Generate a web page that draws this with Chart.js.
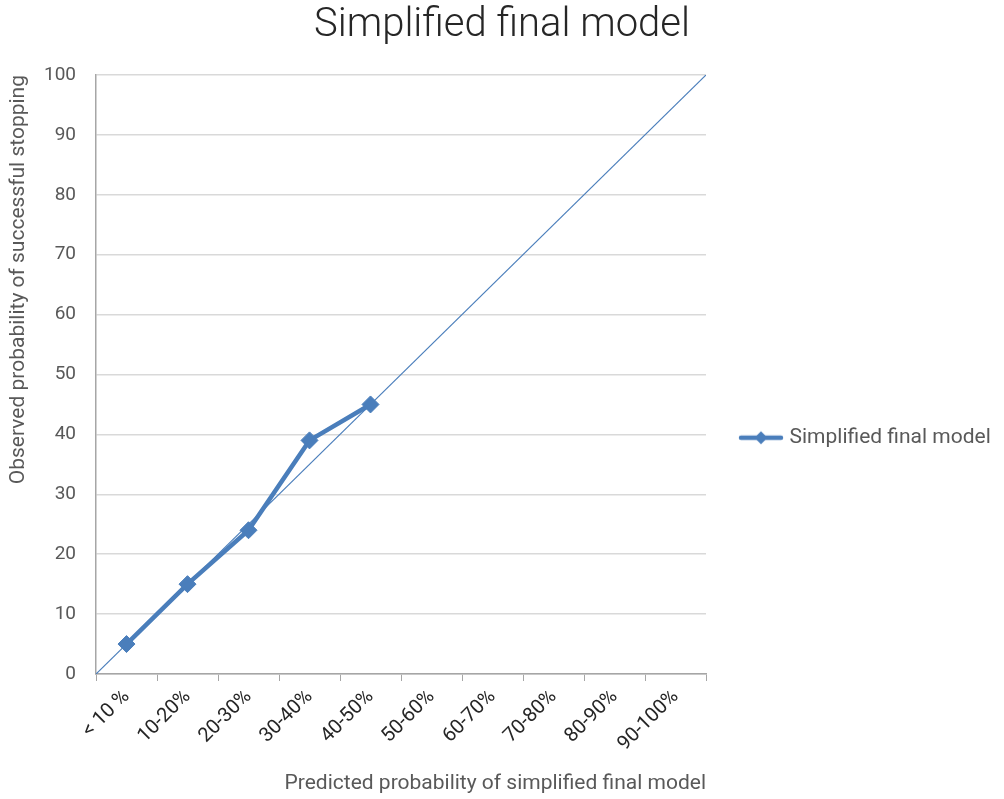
<!DOCTYPE html>
<html>
<head>
<meta charset="utf-8">
<script src="https://cdn.jsdelivr.net/npm/chart.js@4.4.0/dist/chart.umd.min.js"></script>
<style>
  body { margin: 0; background: #fff; }
  canvas { display: block; }
</style>
</head>
<body>
<canvas id="myChart" width="1004" height="799"></canvas>
<script>
// categories on the x axis
const categories = ["< 10 %", "10-20%", "20-30%", "30-40%", "40-50%", "50-60%", "60-70%", "70-80%", "80-90%", "90-100%"];
// observed probability per category (only the first five bins have data)
const observed = [5, 15, 24, 39, 45];
// reference diagonal (perfect calibration), on a hidden 0-100 scale
const refX = [0, 100];
const refY = [0, 100];
const yTicks = { min: 0, max: 100, step: 10 };

const blue = "#4a7ebb";
const textGray = "#595959";

// legend icon: line with diamond in the middle
const legendIcon = document.createElement("canvas");
legendIcon.width = 46;
legendIcon.height = 16;
(() => {
  const c = legendIcon.getContext("2d");
  c.strokeStyle = blue;
  c.fillStyle = blue;
  c.lineWidth = 4.5;
  c.lineCap = "round";
  c.beginPath();
  c.moveTo(3, 8);
  c.lineTo(43, 8);
  c.stroke();
  c.beginPath();
  c.moveTo(23, 1.5);
  c.lineTo(29.5, 8);
  c.lineTo(23, 14.5);
  c.lineTo(16.5, 8);
  c.closePath();
  c.fill();
})();

// the layout caps a side legend at a quarter of the width; give it the room it needs
const legendWidth = {
  id: "legendWidth",
  afterInit: (chart) => {
    const lg = chart.legend;
    const fit = lg.fit.bind(lg);
    lg.fit = function () {
      fit();
      this.width = 298;
    };
  },
};

Chart.defaults.font.family = "Roboto, 'Liberation Sans', sans-serif";
Chart.defaults.color = textGray;

const ctx = document.getElementById("myChart").getContext("2d");
const myChart = new Chart(ctx, {
  type: "line",
  data: {
    labels: categories,
    datasets: [
      {
        label: "Simplified final model",
        data: observed,
        xAxisID: "x",
        borderColor: blue,
        backgroundColor: blue,
        borderWidth: 4.5,
        pointStyle: "rectRot",
        pointRadius: 8.5,
        pointHoverRadius: 8.5,
        pointBorderWidth: 1,
        tension: 0,
      },
      {
        label: "diagonal",
        data: refX.map((x, i) => ({ x: x, y: refY[i] })),
        xAxisID: "x2",
        borderColor: blue,
        borderWidth: 1.2,
        pointRadius: 0,
        tension: 0,
      },
    ],
  },
  plugins: [legendWidth],
  options: {
    responsive: false,
    animation: false,
    layout: { padding: { left: 0, right: 0, top: 0, bottom: 0 } },
    plugins: {
      title: {
        display: true,
        text: "Simplified final model",
        color: "#262626",
        font: { size: 40, weight: "300" },
        padding: { top: 2, bottom: 25 },
      },
      legend: {
        position: "right",
        // empty title only pushes the single entry down a little
        title: { display: true, text: "", font: { size: 12 }, padding: { top: 62, bottom: 0 } },
        labels: {
          usePointStyle: true,
          pointStyle: legendIcon,
          pointStyleWidth: 36,
          padding: 37,
          color: textGray,
          font: { size: 21 },
          filter: (item) => item.datasetIndex === 0,
        },
      },
      tooltip: { enabled: false },
    },
    scales: {
      x: {
        type: "category",
        offset: true,
        grid: { offset: true, drawOnChartArea: false, tickLength: 7, color: "#a6a6a6" },
        border: { color: "#a6a6a6", width: 1.5 },
        ticks: { minRotation: 45, maxRotation: 45, autoSkip: false, color: "#262626", font: { size: 20 }, padding: 4 },
        title: {
          display: true,
          align: "end",
          text: "Predicted probability of simplified final model",
          color: textGray,
          font: { size: 21 },
          padding: { top: 4, bottom: 3 },
        },
        afterFit: (scale) => { scale.height = 125; },
      },
      x2: {
        type: "linear",
        display: false,
        min: refX[0],
        max: refX[1],
      },
      y: {
        min: yTicks.min,
        max: yTicks.max,
        grid: { color: "#d9d9d9", lineWidth: 1.5, drawTicks: false },
        border: { color: "#a6a6a6", width: 1.5 },
        ticks: { stepSize: yTicks.step, padding: 20, color: textGray, font: { size: 19 } },
        title: {
          display: true,
          align: "end",
          text: "Observed probability of successful stopping",
          color: textGray,
          font: { size: 21 },
          padding: { top: 6, bottom: 4 },
        },
        afterFit: (scale) => { scale.width = 96; },
      },
    },
  },
});
</script>
</body>
</html>
